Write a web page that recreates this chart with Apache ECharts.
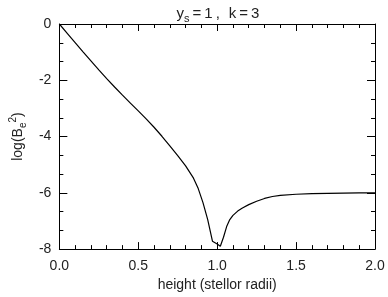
<!DOCTYPE html>
<html>
<head>
<meta charset="utf-8">
<script src="https://cdn.jsdelivr.net/npm/echarts@6/dist/echarts.min.js"></script>
<style>
html,body{margin:0;padding:0;background:#fff;}
#c{width:388px;height:297px;}
</style>
</head>
<body>
<div id="c"></div>
<script>
var heights = [0, 0.05, 0.1, 0.15, 0.2, 0.25, 0.3, 0.35, 0.4, 0.45, 0.5, 0.55, 0.6, 0.65, 0.7, 0.75, 0.8, 0.85, 0.88, 0.91, 0.94, 0.97, 1.0, 1.02, 1.04, 1.06, 1.08, 1.1, 1.13, 1.16, 1.2, 1.25, 1.3, 1.35, 1.4, 1.5, 1.6, 1.7, 1.8, 1.9, 2.0];
var logB2 = [0, -0.33, -0.66, -0.99, -1.31, -1.63, -1.94, -2.24, -2.53, -2.81, -3.09, -3.37, -3.67, -3.99, -4.33, -4.68, -5.04, -5.48, -5.85, -6.35, -6.95, -7.72, -7.82, -7.9, -7.58, -7.2, -6.95, -6.8, -6.65, -6.54, -6.42, -6.3, -6.2, -6.13, -6.09, -6.05, -6.03, -6.02, -6.01, -6.0, -6.0];
var xTicks = ['0.0', '0.5', '1.0', '1.5', '2.0'];
var yTicks = ['0', '-2', '-4', '-6', '-8'];

var font = 'Liberation Sans, Arial, sans-serif';
var txtColor = '#222';
var chart = echarts.init(document.getElementById('c'));

function axLine() { return {show: true, onZero: false, lineStyle: {color: '#000', width: 1}}; }
function tick(len) { return {show: true, inside: true, length: len, lineStyle: {color: '#000', width: 1}}; }
function minor(n) { return {show: true, splitNumber: n, length: 4, lineStyle: {color: '#000', width: 1}}; }

var option = {
  animation: false,
  title: {
    text: '{n|y}{s|s}{n|\u2009=\u20091\u2009,\u2009\u2009\u2009k\u2009=\u20093}',
    left: 213, top: -1, textAlign: 'center',
    textStyle: {
      fontWeight: 'normal',
      rich: {
        n: {fontFamily: font, fontSize: 15, fontWeight: 'normal', color: txtColor, lineHeight: 20, verticalAlign: 'middle'},
        s: {fontFamily: font, fontSize: 11, fontWeight: 'normal', color: txtColor, lineHeight: 11, verticalAlign: 'bottom'}
      }
    }
  },
  grid: {left: 51, right: 13, top: 24, bottom: 45},
  xAxis: [
    {
      type: 'value', position: 'bottom', min: 0, max: 2, interval: 0.5,
      axisLine: axLine(), splitLine: {show: false},
      axisTick: tick(7), minorTick: minor(5),
      axisLabel: {
        margin: 10, fontFamily: font, fontSize: 14, color: txtColor,
        formatter: function (v) { return xTicks[Math.round(v / 0.5)]; }
      },
      name: 'height (stellor radii)', nameLocation: 'middle', nameGap: 27,
      nameTextStyle: {fontFamily: font, fontSize: 14, color: txtColor}
    },
    {
      type: 'value', position: 'top', min: 0, max: 2, interval: 0.5,
      axisLine: axLine(), splitLine: {show: false},
      axisTick: tick(7), minorTick: minor(5),
      axisLabel: {show: false}
    }
  ],
  yAxis: [
    {
      type: 'value', position: 'left', min: -8, max: 0, interval: 2,
      axisLine: axLine(), splitLine: {show: false},
      axisTick: tick(8), minorTick: minor(3),
      axisLabel: {
        margin: 8, fontFamily: font, fontSize: 14, color: txtColor,
        formatter: function (v) { return yTicks[Math.round(-v / 2)]; }
      },
      name: '{n|log(B}{s|e}{p|2}{n|)}', nameLocation: 'middle', nameGap: 29, nameRotate: 90,
      nameTextStyle: {
        rich: {
          n: {fontFamily: font, fontSize: 14, color: txtColor, lineHeight: 20, verticalAlign: 'middle'},
          s: {fontFamily: font, fontSize: 10, color: txtColor, lineHeight: 10, verticalAlign: 'bottom'},
          p: {fontFamily: font, fontSize: 10, color: txtColor, lineHeight: 10, verticalAlign: 'top'}
        }
      }
    },
    {
      type: 'value', position: 'right', min: -8, max: 0, interval: 2,
      axisLine: axLine(), splitLine: {show: false},
      axisTick: tick(8), minorTick: minor(3),
      axisLabel: {show: false}
    }
  ],
  series: [{
    type: 'line',
    data: heights.map(function (h, i) { return [h, logB2[i]]; }),
    showSymbol: false,
    lineStyle: {color: '#000', width: 1.2},
    smooth: false
  }]
};
chart.setOption(option);
</script>
</body>
</html>
